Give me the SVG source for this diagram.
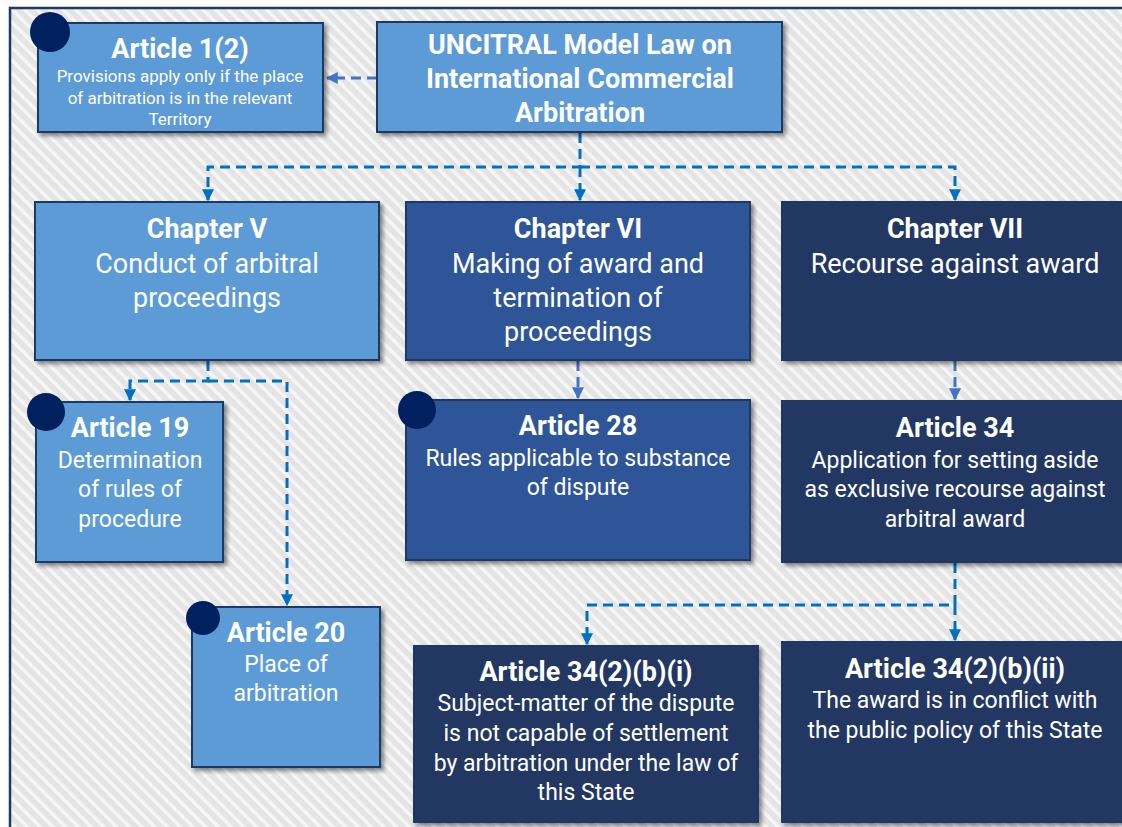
<svg xmlns="http://www.w3.org/2000/svg" width="1122" height="827" viewBox="0 0 1122 827">
<defs>
  <pattern id="stripes" width="9" height="9" patternUnits="userSpaceOnUse" patternTransform="rotate(-45)">
    <rect width="9" height="9" fill="#E4E4E4"/>
    <rect x="0" y="0" width="3.5" height="9" fill="#F6F6F6"/>
  </pattern>
  <filter id="shadow" x="-10%" y="-10%" width="130%" height="130%">
    <feDropShadow dx="3" dy="3" stdDeviation="2" flood-color="#000" flood-opacity="0.45"/>
  </filter>
  <marker id="arr" viewBox="0 0 10 10" refX="9" refY="5" markerWidth="4" markerHeight="4" orient="auto" markerUnits="strokeWidth">
    <path d="M0,0 L10,5 L0,10 z" fill="#0070C0"/>
  </marker>
  <marker id="arr2" viewBox="0 0 10 10" refX="9" refY="5" markerWidth="4" markerHeight="4" orient="auto" markerUnits="strokeWidth">
    <path d="M0,0 L10,5 L0,10 z" fill="#4472C4"/>
  </marker>
</defs>
<style>
  .box { stroke: #1F3864; stroke-width: 2; filter: url(#shadow); }
  .l1 { fill: #5B9BD5; }
  .l2 { fill: #2F5597; }
  .l3 { fill: #203864; }
  .dot { fill: #002060; }
  text { font-family: Roboto, "Liberation Sans", sans-serif; fill: #FFFFFF; text-anchor: middle; }
  .t { font-weight: bold; font-size: 27px; }
  .u { font-weight: bold; font-size: 27px; }
  .cb { font-size: 27px; }
  .b { font-size: 23px; }
  .s { font-size: 17px; }
  .c { fill: none; stroke: #0070C0; stroke-width: 3; stroke-dasharray: 10 6; }
  .c2 { fill: none; stroke: #4472C4; stroke-width: 3; stroke-dasharray: 10 6; }
</style>

<rect x="10" y="8" width="1130" height="830" fill="url(#stripes)" stroke="#1F3864" stroke-width="2.5"/>

<g id="connectors">
  <path class="c2" d="M377,78 H327" marker-end="url(#arr2)"/>
  <path class="c" d="M580,133 V167 H208 V200" marker-end="url(#arr)"/>
  <path class="c" d="M580,167 V200" marker-end="url(#arr)"/>
  <path class="c" d="M580,167 H955 V200" marker-end="url(#arr)"/>
  <path class="c" d="M208,361 V381 H130 V400" marker-end="url(#arr)"/>
  <path class="c" d="M208,381 H287 V605" marker-end="url(#arr)"/>
  <path class="c2" d="M578,361 V398" marker-end="url(#arr2)"/>
  <path class="c2" d="M955,361 V399" marker-end="url(#arr2)"/>
  <path class="c" d="M955,563 V605 H587 V644" marker-end="url(#arr)"/>
  <path class="c" d="M955,605 V640" marker-end="url(#arr)"/>
</g>

<g id="article-1-2">
  <rect class="box l1" x="38" y="23" width="285" height="109"/>
  <circle class="dot" cx="50" cy="32" r="20"/>
  <text class="t" x="180" y="58">Article 1(2)</text>
  <text class="s" x="180" y="82">Provisions apply only if the place</text>
  <text class="s" x="180" y="104">of arbitration is in the relevant</text>
  <text class="s" x="180" y="125">Territory</text>
</g>

<g id="uncitral">
  <rect class="box l1" x="377" y="22" width="405" height="110"/>
  <text class="u" x="580" y="54">UNCITRAL Model Law on</text>
  <text class="u" x="580" y="88">International Commercial</text>
  <text class="u" x="580" y="122">Arbitration</text>
</g>

<g id="chapter-v">
  <rect class="box l1" x="35" y="202" width="344" height="158"/>
  <text class="t" x="207" y="238">Chapter V</text>
  <text class="cb" x="207" y="273">Conduct of arbitral</text>
  <text class="cb" x="207" y="307">proceedings</text>
</g>

<g id="chapter-vi">
  <rect class="box l2" x="406" y="202" width="344" height="158"/>
  <text class="t" x="578" y="238">Chapter VI</text>
  <text class="cb" x="578" y="273">Making of award and</text>
  <text class="cb" x="578" y="307">termination of</text>
  <text class="cb" x="578" y="341">proceedings</text>
</g>

<g id="chapter-vii">
  <rect class="box l3" x="782" y="202" width="360" height="158"/>
  <text class="t" x="955" y="238">Chapter VII</text>
  <text class="cb" x="955" y="273">Recourse against award</text>
</g>

<g id="article-19">
  <rect class="box l1" x="36" y="402" width="187" height="160"/>
  <circle class="dot" cx="46" cy="412" r="19"/>
  <text class="t" x="130" y="437">Article 19</text>
  <text class="b" x="130" y="468">Determination</text>
  <text class="b" x="130" y="497">of rules of</text>
  <text class="b" x="130" y="527">procedure</text>
</g>

<g id="article-28">
  <rect class="box l2" x="406" y="400" width="344" height="160"/>
  <circle class="dot" cx="417" cy="410" r="19"/>
  <text class="t" x="578" y="435">Article 28</text>
  <text class="b" x="578" y="466">Rules applicable to substance</text>
  <text class="b" x="578" y="495">of dispute</text>
</g>

<g id="article-34">
  <rect class="box l3" x="782" y="401" width="360" height="161"/>
  <text class="t" x="955" y="437">Article 34</text>
  <text class="b" x="955" y="468">Application for setting aside</text>
  <text class="b" x="955" y="497">as exclusive recourse against</text>
  <text class="b" x="955" y="527">arbitral award</text>
</g>

<g id="article-20">
  <rect class="box l1" x="192" y="607" width="188" height="160"/>
  <circle class="dot" cx="203" cy="618" r="17"/>
  <text class="t" x="286" y="642">Article 20</text>
  <text class="b" x="286" y="672">Place of</text>
  <text class="b" x="286" y="701">arbitration</text>
</g>

<g id="article-34-2-b-i">
  <rect class="box l3" x="414" y="646" width="344" height="176"/>
  <text class="t" x="586" y="681">Article 34(2)(b)(i)</text>
  <text class="b" x="586" y="711">Subject-matter of the dispute</text>
  <text class="b" x="586" y="741">is not capable of settlement</text>
  <text class="b" x="586" y="771">by arbitration under the law of</text>
  <text class="b" x="586" y="800">this State</text>
</g>

<g id="article-34-2-b-ii">
  <rect class="box l3" x="782" y="642" width="360" height="180"/>
  <text class="t" x="955" y="678">Article 34(2)(b)(ii)</text>
  <text class="b" x="955" y="708">The award is in conflict with</text>
  <text class="b" x="955" y="738">the public policy of this State</text>
</g>
</svg>
